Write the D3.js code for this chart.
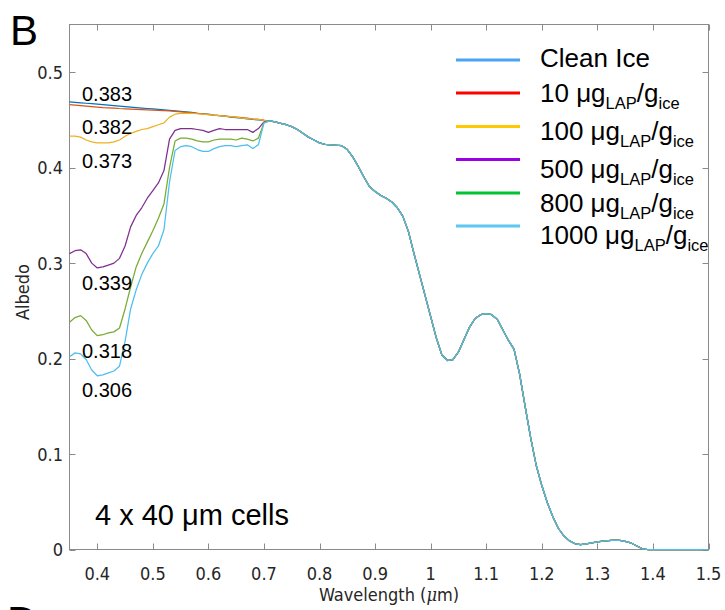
<!DOCTYPE html>
<html>
<head>
<meta charset="utf-8">
<script src="https://cdn.jsdelivr.net/npm/d3@7/dist/d3.min.js"></script>
<style>
  body { margin: 0; background: #fff; }
  svg { display: block; }
</style>
</head>
<body>
<svg id="chart" width="725" height="610"></svg>
<script>
// Wavelengths (µm) where the impurity loadings change the spectrum
const visibleWavelengths = [0.35, 0.36, 0.37, 0.38, 0.39, 0.40, 0.41, 0.42, 0.43, 0.44,
  0.45, 0.46, 0.47, 0.48, 0.49, 0.50, 0.51, 0.52, 0.53, 0.54,
  0.55, 0.56, 0.57, 0.58, 0.59, 0.60, 0.61, 0.62, 0.63, 0.64,
  0.65, 0.66, 0.67, 0.68, 0.69, 0.70];

// Albedo per loading over the visible range
const cleanIce = [0.469, 0.4685, 0.468, 0.4675, 0.467, 0.4665, 0.466, 0.4655, 0.465, 0.4645,
  0.464, 0.4635, 0.463, 0.4625, 0.462, 0.4615, 0.461, 0.4605, 0.460, 0.4595,
  0.459, 0.4585, 0.458, 0.457, 0.4565, 0.456, 0.455, 0.4545, 0.454, 0.453,
  0.4525, 0.452, 0.451, 0.4505, 0.450, 0.4495];
const lap10 = [0.466, 0.4655, 0.465, 0.4645, 0.464, 0.4635, 0.463, 0.4627, 0.4625, 0.462,
  0.4617, 0.4613, 0.461, 0.4607, 0.4605, 0.4602, 0.460, 0.4597, 0.4595, 0.459,
  0.4585, 0.458, 0.4575, 0.457, 0.4563, 0.4557, 0.455, 0.4545, 0.454, 0.4535,
  0.453, 0.4525, 0.452, 0.451, 0.4505, 0.4495];
const lap100 = [0.433, 0.433, 0.432, 0.429, 0.427, 0.426, 0.426, 0.426, 0.427, 0.429,
  0.433, 0.436, 0.438, 0.440, 0.441, 0.443, 0.445, 0.447, 0.453, 0.456,
  0.457, 0.457, 0.457, 0.4565, 0.456, 0.4555, 0.455, 0.4545, 0.454, 0.4535,
  0.453, 0.452, 0.4515, 0.451, 0.4505, 0.4495];
const lap500 = [0.310, 0.313, 0.314, 0.310, 0.300, 0.295, 0.296, 0.298, 0.300, 0.305,
  0.318, 0.338, 0.350, 0.358, 0.368, 0.376, 0.384, 0.397, 0.430, 0.439,
  0.441, 0.441, 0.441, 0.440, 0.439, 0.437, 0.439, 0.441, 0.440, 0.440,
  0.440, 0.440, 0.440, 0.437, 0.441, 0.448];
const lap800 = [0.238, 0.243, 0.245, 0.240, 0.230, 0.224, 0.225, 0.227, 0.228, 0.232,
  0.252, 0.275, 0.296, 0.310, 0.322, 0.334, 0.347, 0.362, 0.400, 0.428,
  0.431, 0.431, 0.430, 0.428, 0.427, 0.427, 0.429, 0.430, 0.430, 0.430,
  0.429, 0.431, 0.430, 0.428, 0.431, 0.447];
const lap1000 = [0.202, 0.206, 0.205, 0.199, 0.188, 0.182, 0.183, 0.185, 0.187, 0.192,
  0.218, 0.252, 0.272, 0.288, 0.300, 0.310, 0.318, 0.335, 0.385, 0.418,
  0.422, 0.423, 0.422, 0.419, 0.417, 0.417, 0.420, 0.422, 0.423, 0.423,
  0.422, 0.423, 0.424, 0.420, 0.424, 0.447];

// Beyond 0.7 µm all loadings share the same albedo
const infraredWavelengths = [0.71, 0.72, 0.73, 0.74, 0.75, 0.76, 0.77, 0.78, 0.79, 0.80,
  0.81, 0.82, 0.83, 0.84, 0.85, 0.86, 0.87, 0.88, 0.89, 0.90,
  0.91, 0.92, 0.93, 0.94, 0.95, 0.96, 0.97, 0.98, 0.99, 1.00,
  1.01, 1.02, 1.03, 1.04, 1.05, 1.06, 1.07, 1.08, 1.09, 1.10,
  1.11, 1.12, 1.13, 1.14, 1.15, 1.16, 1.17, 1.18, 1.19, 1.20,
  1.21, 1.22, 1.23, 1.24, 1.25, 1.26, 1.27, 1.28, 1.29, 1.30,
  1.31, 1.32, 1.33, 1.34, 1.35, 1.36, 1.37, 1.38, 1.39, 1.40,
  1.41, 1.42, 1.43, 1.44, 1.45, 1.46, 1.47, 1.48, 1.49, 1.50];
const infraredAlbedo = [0.449, 0.448, 0.4465, 0.445, 0.443, 0.440, 0.436, 0.432, 0.429, 0.426,
  0.4245, 0.424, 0.4235, 0.423, 0.419, 0.411, 0.401, 0.390, 0.380, 0.375,
  0.371, 0.368, 0.364, 0.358, 0.349, 0.333, 0.310, 0.288, 0.266, 0.244,
  0.222, 0.204, 0.198, 0.199, 0.207, 0.220, 0.233, 0.242, 0.246, 0.247,
  0.246, 0.241, 0.230, 0.219, 0.210, 0.184, 0.150, 0.117, 0.088, 0.067,
  0.049, 0.034, 0.022, 0.014, 0.009, 0.006, 0.005, 0.006, 0.007, 0.008,
  0.0088, 0.0093, 0.0097, 0.0095, 0.0085, 0.007, 0.004, 0.001, 0, 0,
  0, 0, 0, 0, 0, 0, 0, 0, 0, 0];

const seriesValues = [cleanIce, lap10, lap100, lap500, lap800, lap1000];
const seriesColors = ["#0072BD", "#D95319", "#EDB120", "#7E2F8E", "#77AC30", "#4DBEEE"];
const legendColors = ["#4AA3F5", "#FF0000", "#FFC800", "#9A00E6", "#00C233", "#5CC8F2"];
const legendAmounts = ["10", "100", "500", "800", "1000"];

// Broadband albedo of each loading
const broadbandLabels = ["0.383", "0.382", "0.373", "0.339", "0.318", "0.306"];
const broadbandLabelY = [101, 134, 168, 290, 358, 397];

const xTicks = [0.4, 0.5, 0.6, 0.7, 0.8, 0.9, 1.0, 1.1, 1.2, 1.3, 1.4, 1.5];
const yTicks = [0, 0.1, 0.2, 0.3, 0.4, 0.5];

const svg = d3.select("#chart");
const plotLeft = 69.5, plotRight = 708.5, plotTop = 24.5, plotBottom = 549.5;

const x = d3.scaleLinear().domain([0.35, 1.5]).range([plotLeft, plotRight]);
const y = d3.scaleLinear().domain([0, 0.55]).range([plotBottom, plotTop]);

const axisGrey = "#8a8a8a";
const tickFont = "'DejaVu Sans Condensed', 'DejaVu Sans', sans-serif";
const textFont = "'Liberation Sans', Arial, sans-serif";

// Box with inward ticks on every side
const frame = svg.append("g").attr("stroke", axisGrey).attr("fill", "none");
frame.append("rect").attr("x", plotLeft).attr("y", plotTop)
  .attr("width", plotRight - plotLeft).attr("height", plotBottom - plotTop).attr("stroke-width", 1);
const tickLen = 6;
xTicks.forEach(t => {
  const px = Math.round(x(t)) + 0.5;
  frame.append("line").attr("x1", px).attr("x2", px).attr("y1", plotBottom).attr("y2", plotBottom - tickLen);
  frame.append("line").attr("x1", px).attr("x2", px).attr("y1", plotTop).attr("y2", plotTop + tickLen);
});
yTicks.forEach(t => {
  const py = Math.round(y(t)) + 0.5;
  frame.append("line").attr("x1", plotLeft).attr("x2", plotLeft + tickLen).attr("y1", py).attr("y2", py);
  frame.append("line").attr("x1", plotRight).attr("x2", plotRight - tickLen).attr("y1", py).attr("y2", py);
});

// Curves, drawn over the frame so the zero stretch stays visible
const line = d3.line().x(d => x(d[0])).y(d => y(d[1]));
const curves = svg.append("g").attr("fill", "none").attr("stroke-width", 1.25)
  .attr("stroke-linejoin", "round");
seriesValues.forEach((vals, i) => {
  const pts = visibleWavelengths.map((w, j) => [w, vals[j]])
    .concat(infraredWavelengths.map((w, j) => [w, infraredAlbedo[j]]));
  curves.append("path").attr("d", line(pts)).attr("stroke", seriesColors[i]);
});

// Tick labels
const tickText = svg.append("g").attr("font-family", tickFont).attr("font-stretch", "condensed")
  .attr("font-size", 18).attr("fill", "#262626");
xTicks.forEach(t => {
  tickText.append("text").attr("x", x(t)).attr("y", 580).attr("text-anchor", "middle")
    .text(d3.format("~g")(t));
});
yTicks.forEach(t => {
  tickText.append("text").attr("x", 63).attr("y", y(t)).attr("dy", "0.36em")
    .attr("text-anchor", "end").text(d3.format("~g")(t));
});

// Axis titles
const xTitle = tickText.append("text").attr("x", (plotLeft + plotRight) / 2).attr("y", 601)
  .attr("text-anchor", "middle");
xTitle.append("tspan").text("Wavelength (");
xTitle.append("tspan").attr("font-style", "italic").attr("font-family", "'DejaVu Serif', serif").text("μ");
xTitle.append("tspan").text("m)");
tickText.append("text").attr("transform", "translate(29,292) rotate(-90)")
  .attr("text-anchor", "middle").text("Albedo");

// Broadband albedo annotations
const notes = svg.append("g").attr("font-family", textFont).attr("font-size", 20).attr("fill", "#000");
broadbandLabels.forEach((s, i) => {
  notes.append("text").attr("x", 82).attr("y", broadbandLabelY[i]).text(s);
});

// Cell description and panel letters
svg.append("text").attr("x", 95).attr("y", 525).attr("font-family", textFont)
  .attr("font-size", 29).text("4 x 40 μm cells");
svg.append("text").attr("x", 10).attr("y", 45).attr("font-family", textFont)
  .attr("font-size", 42).text("B");
svg.append("text").attr("x", 7).attr("y", 636).attr("font-family", textFont)
  .attr("font-size", 42).text("D");

// Legend
const legend = svg.append("g").attr("font-family", textFont).attr("font-size", 26).attr("fill", "#000");
const legendLineY = [60, 93, 126.5, 159.5, 193, 226];
const legendTextY = [66.5, 101.5, 139.5, 178, 211.5, 244];
legendColors.forEach((c, i) => {
  legend.append("line").attr("x1", 456).attr("x2", 520)
    .attr("y1", legendLineY[i]).attr("y2", legendLineY[i])
    .attr("stroke", c).attr("stroke-width", 3);
});
legend.append("text").attr("x", 540).attr("y", legendTextY[0]).text("Clean Ice");
legendAmounts.forEach((a, i) => {
  const t = legend.append("text").attr("x", 540).attr("y", legendTextY[i + 1]);
  t.append("tspan").text(a + " μg");
  t.append("tspan").attr("font-size", 16.5).attr("dy", 7).text("LAP");
  t.append("tspan").attr("dy", -7).text("/g");
  t.append("tspan").attr("font-size", 16.5).attr("dy", 7).text("ice");
});
</script>
</body>
</html>
